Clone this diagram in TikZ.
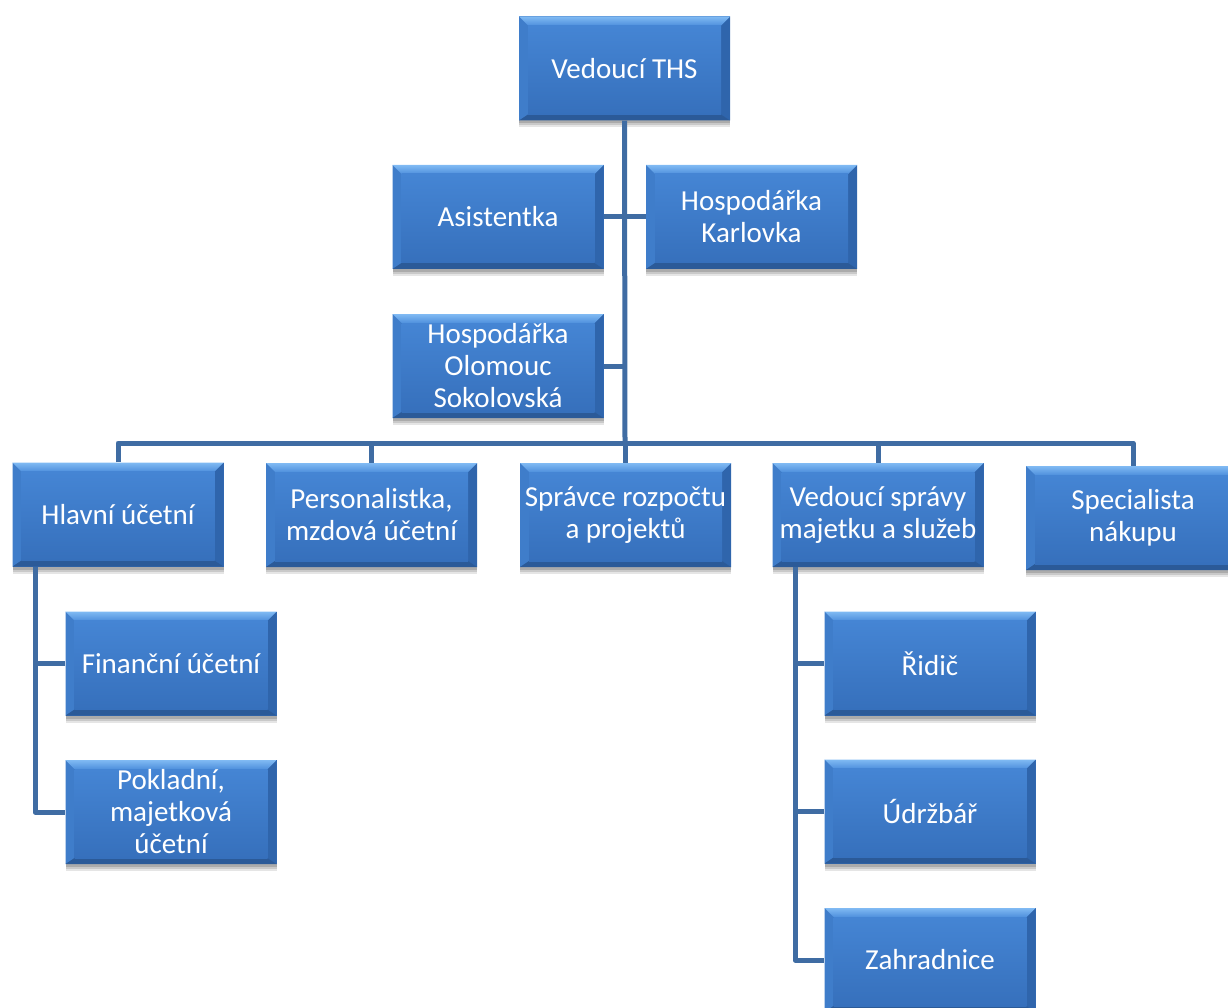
\documentclass[tikz,border=0pt]{standalone}
\usepackage{fontspec}
\setmainfont{Carlito}
\usetikzlibrary{shadows}
\definecolor{linec}{HTML}{3F6CA3}
\definecolor{facetop}{HTML}{4585D4}
\definecolor{facebot}{HTML}{3670BC}
\definecolor{bevtopa}{HTML}{80BAF3}
\definecolor{bevtopb}{HTML}{4F90DD}
\definecolor{bevleft}{HTML}{3F7DCA}
\definecolor{bevright}{HTML}{2F65AC}
\definecolor{bevbot}{HTML}{2B5A98}
\newcommand{\bvw}{9pt}
\newcommand{\bvb}{6pt}
\tikzset{
  orgbox/.style={rectangle, inner sep=0pt, minimum width=211pt, minimum height=104pt,
    text=white, align=center, font=\fontsize{29pt}{32pt}\selectfont,
    fill=facebot,
    drop shadow={shadow xshift=0pt, shadow yshift=-7pt, opacity=0.10, fill=black},
    drop shadow={shadow xshift=0pt, shadow yshift=-5pt, opacity=0.12, fill=black},
    drop shadow={shadow xshift=0pt, shadow yshift=-3pt, opacity=0.15, fill=black},
    path picture={
      \path (path picture bounding box.north west) coordinate (pnw)
            (path picture bounding box.north east) coordinate (pne)
            (path picture bounding box.south west) coordinate (psw)
            (path picture bounding box.south east) coordinate (pse);
      \fill[bevleft] (pnw) -- (psw) -- ([shift={(\bvw,\bvb)}]psw) -- ([shift={(\bvw,-\bvw)}]pnw) -- cycle;
      \fill[bevright] (pne) -- (pse) -- ([shift={(-\bvw,\bvb)}]pse) -- ([shift={(-\bvw,-\bvw)}]pne) -- cycle;
      \fill[bevbot] (psw) -- (pse) -- ([shift={(-\bvw,\bvb)}]pse) -- ([shift={(\bvw,\bvb)}]psw) -- cycle;
      \shade[top color=bevtopa, bottom color=bevtopb] (pnw) -- (pne) -- ([shift={(-\bvw,-\bvw)}]pne) -- ([shift={(\bvw,-\bvw)}]pnw) -- cycle;
      \shade[top color=facetop, bottom color=facebot] ([shift={(\bvw,\bvb)}]psw) rectangle ([shift={(-\bvw,-\bvw)}]pne);
    }},
  conn/.style={draw=linec, line width=5pt, line join=round}
}
\begin{document}
\begin{tikzpicture}[x=1pt, y=-1pt]
\useasboundingbox (0,0) rectangle (1228,1008);

\coordinate (j) at (625,443);
\coordinate (hx) at (35,0);
\coordinate (vx) at (795,0);

\node[orgbox] (ths) at (624.5,68.5) {Vedoucí THS};
\node[orgbox] (asist) at (498,217) {Asistentka};
\node[orgbox] (karl) at (751.5,217) {Hospodářka\\Karlovka};
\node[orgbox] (olo) at (498,366) {Hospodářka\\Olomouc\\Sokolovská};
\node[orgbox] (hlav) at (118,514.5) {Hlavní účetní};
\node[orgbox] (pers) at (371.5,515) {Personalistka,\\mzdová účetní};
\node[orgbox] (sprc) at (625.5,515) {Správce rozpočtu\\a projektů};
\node[orgbox] (vspr) at (878,515) {Vedoucí správy\\majetku a služeb};
\node[orgbox, minimum width=214pt] (spec) at (1133,518) {Specialista\\nákupu};
\node[orgbox] (fin) at (171,663.5) {Finanční účetní};
\node[orgbox] (pok) at (171,812) {Pokladní,\\majetková\\účetní};
\node[orgbox] (rid) at (930,663.5) {Řidič};
\node[orgbox] (udr) at (930,811.5) {Údržbář};
\node[orgbox] (zah) at (930,960) {Zahradnice};

\draw[conn] (ths.south) -- (j);
\draw[conn] (asist.east) -- (karl.west);
\draw[conn] (olo.east) -- (olo.east -| j);
\draw[conn] (hlav.north) -- (hlav.north |- j) -- (spec.north |- j) -- (spec.north);
\draw[conn] (pers.north) -- (pers.north |- j);
\draw[conn] (sprc.north) -- (sprc.north |- j);
\draw[conn] (vspr.north) -- (vspr.north |- j);

\draw[conn] (hlav.south -| hx) |- (pok.west);
\draw[conn] (fin.west) -- (fin.west -| hx);
\draw[conn] (vspr.south -| vx) |- (zah.west);
\draw[conn] (rid.west) -- (rid.west -| vx);
\draw[conn] (udr.west) -- (udr.west -| vx);
\end{tikzpicture}
\end{document}
